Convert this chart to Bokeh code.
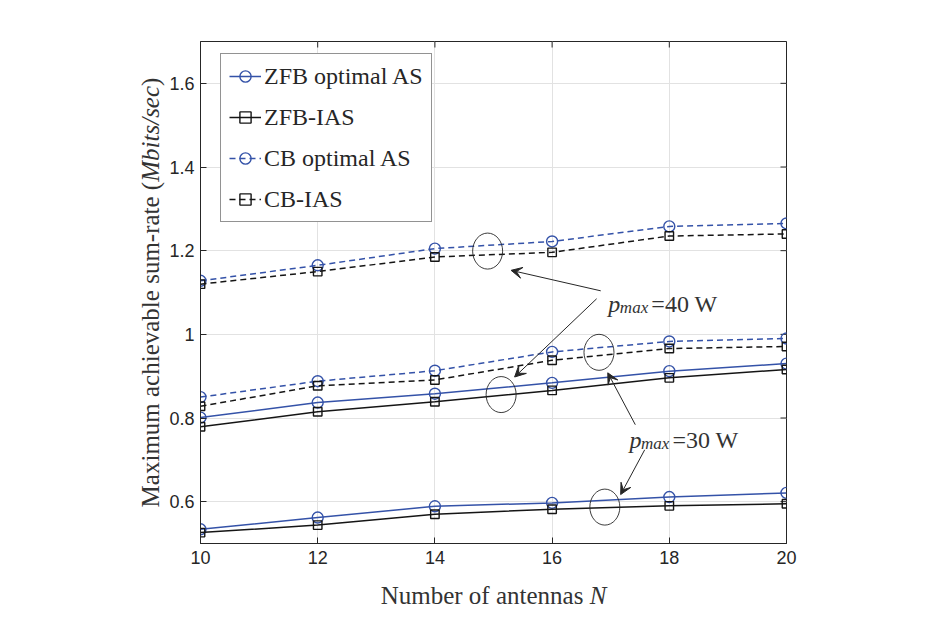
import math
from bokeh.plotting import figure
from bokeh.layouts import column, row
from bokeh.models import Range1d, Label, Arrow, VeeHead, Legend, LegendItem, FixedTicker
from bokeh.core.properties import value
from bokeh.embed import file_html
from bokeh.resources import INLINE

# ---------------- data ----------------
N = [10, 12, 14, 16, 18, 20]
zfb_opt_30 = [0.534, 0.562, 0.589, 0.597, 0.611, 0.621]
zfb_ias_30 = [0.526, 0.544, 0.570, 0.582, 0.590, 0.595]
zfb_opt_40 = [0.801, 0.837, 0.858, 0.884, 0.912, 0.930]
zfb_ias_40 = [0.779, 0.815, 0.839, 0.866, 0.896, 0.916]
cb_opt_30 = [0.850, 0.888, 0.913, 0.958, 0.983, 0.990]
cb_ias_30 = [0.828, 0.877, 0.891, 0.938, 0.966, 0.971]
cb_opt_40 = [1.128, 1.165, 1.205, 1.222, 1.258, 1.265]
cb_ias_40 = [1.120, 1.150, 1.185, 1.196, 1.235, 1.240]

x_min, x_max = 10, 20
y_min, y_max = 0.5, 1.7
x_ticks = [10, 12, 14, 16, 18, 20]
y_ticks = [0.6, 0.8, 1.0, 1.2, 1.4, 1.6]
y_tick_labels = ["0.6", "0.8", "1", "1.2", "1.4", "1.6"]

legend_labels = ["ZFB optimal AS", "ZFB-IAS", "CB optimal AS", "CB-IAS"]
# axis titles: upright / italic / upright parts
x_title = ["Number of antennas ", "N"]
y_title = ["Maximum achievable sum-rate (", "Mbits/sec", ")"]

# annotation anchors (data units)
ellipse_x = [14.90, 16.80, 15.13, 16.90]
ellipse_y = [1.199, 0.957, 0.856, 0.587]
arrows_40 = [(16.83, 1.104, 15.30, 1.153), (16.76, 1.085, 15.36, 0.898)]
arrows_30 = [(17.42, 0.784, 16.95, 0.908), (17.58, 0.724, 17.17, 0.617)]
label_40 = (16.96, 1.0726, "=40 W")
label_30 = (17.32, 0.748, "=30 W")

# ---------------- styles ----------------
BLUE = "#3452a8"
BLACK = "#151515"
AX = "#262626"
TXT = "#333333"
SERIF = "Liberation Serif"
SANS = "Liberation Sans"
FS = 24   # legend / annotation serif size (px)
FT = 25   # axis title size (px)

# Liberation Serif (Times metrics) advance widths, in em
W_REG = {' ': .25, '(': .333, ')': .333, '-': .333, 'a': .444, 'b': .5, 'c': .444, 'e': .444,
         'h': .5, 'i': .278, 'l': .278, 'm': .778, 'r': .333, 's': .389, 't': .278, 'u': .5,
         'v': .5, 'x': .5, 'M': .889, 'N': .722, 'f': .333, 'n': .5, 'o': .5}
W_IT = {'M': .833, 'b': .5, 'i': .278, 't': .278, 's': .389, '/': .278, 'e': .444, 'c': .444,
        'N': .667}


def width(s, table, fs=FT):
    return sum(table.get(ch, .5) for ch in s) * fs


TOTAL_W = 921
YW = 165                 # width of the y-title strip
B_LEFT, B_RIGHT, B_TOP, B_BOTTOM = 35, 135, 41, 29
ROW_H = 572
XH = 39                  # height of the x-title strip

p = figure(width=TOTAL_W - YW, height=ROW_H, output_backend="svg", toolbar_location=None,
           x_range=Range1d(x_min, x_max), y_range=Range1d(y_min, y_max),
           min_border_left=B_LEFT, min_border_right=B_RIGHT,
           min_border_top=B_TOP, min_border_bottom=B_BOTTOM)
p.background_fill_color = "white"
p.border_fill_color = "white"
p.outline_line_color = AX
p.outline_line_width = 1

for ax in (p.xaxis[0], p.yaxis[0]):
    ax.axis_line_color = AX
    ax.major_tick_line_color = AX
    ax.major_tick_in = 6
    ax.major_tick_out = 0
    ax.minor_tick_line_color = None
    ax.major_label_text_font = SANS
    ax.major_label_text_font_size = "18px"
    ax.major_label_text_color = AX
p.xaxis.ticker = FixedTicker(ticks=x_ticks)
p.yaxis.ticker = FixedTicker(ticks=y_ticks)
p.yaxis.major_label_overrides = {t: s for t, s in zip(y_ticks, y_tick_labels)}
p.xaxis.major_label_standoff = 7
p.yaxis.major_label_standoff = 6

p.xgrid.ticker = FixedTicker(ticks=x_ticks)
p.ygrid.ticker = FixedTicker(ticks=y_ticks)
p.grid.grid_line_color = "#e2e2e2"
p.grid.grid_line_width = 1

# mirrored inner ticks on the top and right edges of the box
p.scatter(x_ticks, [y_max] * len(x_ticks), marker="dash", angle=math.pi / 2, size=12,
          line_color=AX, line_width=1)
p.scatter([x_max] * len(y_ticks), y_ticks, marker="dash", size=12,
          line_color=AX, line_width=1)

# ---------------- series ----------------
def series(vals, color, dash, marker, size):
    l = p.line(N, vals, line_color=color, line_width=1.5, line_dash=dash)
    m = p.scatter(N, vals, marker=marker, size=size, fill_color=None,
                  line_color=color, line_width=1.4)
    return [l, m]

r1 = series(zfb_opt_40, BLUE, "solid", "circle", 11)
r2 = series(zfb_ias_40, BLACK, "solid", "square", 8.5)
r3 = series(cb_opt_40, BLUE, "6 4", "circle", 11)
r4 = series(cb_ias_40, BLACK, "6 4", "square", 8.5)
series(zfb_opt_30, BLUE, "solid", "circle", 11)
series(zfb_ias_30, BLACK, "solid", "square", 8.5)
series(cb_opt_30, BLUE, "6 4", "circle", 11)
series(cb_ias_30, BLACK, "6 4", "square", 8.5)

legend = Legend(items=[LegendItem(label=t, renderers=r) for t, r in
                       zip(legend_labels, [r1, r2, r3, r4])],
                location=(20, 321))
legend.label_text_font = SERIF
legend.label_text_font_size = f"{FS}px"
legend.label_text_color = AX
legend.glyph_width = 32
legend.glyph_height = 28
legend.label_height = 28
legend.label_standoff = 3
legend.spacing = 13
legend.padding = 8
legend.margin = 0
legend.border_line_color = AX
legend.border_line_width = 1
legend.background_fill_color = "white"
legend.background_fill_alpha = 1
p.add_layout(legend, "center")

# ---------------- annotations ----------------
p.ellipse(x=ellipse_x, y=ellipse_y, width=30, height=36, width_units="screen",
          height_units="screen", fill_color=None, line_color=AX, line_width=0.9)

for xs, ys_, xe, ye in arrows_40 + arrows_30:
    p.add_layout(Arrow(x_start=xs, y_start=ys_, x_end=xe, y_end=ye, line_color=AX,
                       line_width=1,
                       end=VeeHead(size=11, fill_color=AX, line_color=AX, line_width=1)))

for (lx, ly, rest) in (label_40, label_30):
    p.add_layout(Label(x=lx, y=ly, text="p", text_font=SERIF, text_font_style="italic",
                       text_font_size=f"{FS}px", text_color=TXT,
                       text_baseline="alphabetic"))
    p.add_layout(Label(x=lx, y=ly, x_offset=11.5, y_offset=-4, text="max", text_font=SERIF,
                       text_font_style="italic", text_font_size="17px",
                       text_color=TXT, text_baseline="alphabetic"))
    p.add_layout(Label(x=lx, y=ly, x_offset=43, text=rest, text_font=SERIF,
                       text_font_size=f"{FS}px", text_color=TXT,
                       text_baseline="alphabetic"))


# ---------------- axis titles (side strips sharing the plot's ranges) ----------------
def strip(w, h, xr, yr, bl, br, bt, bb):
    f = figure(width=w, height=h, output_backend="svg", toolbar_location=None,
               x_range=xr, y_range=yr, x_axis_location=None, y_axis_location=None,
               min_border=0, min_border_left=bl, min_border_right=br,
               min_border_top=bt, min_border_bottom=bb)
    f.grid.visible = False
    f.outline_line_color = None
    f.background_fill_color = "white"
    f.border_fill_color = "white"
    return f


# y title: reads bottom-to-top, centred on the plot box
ys = strip(YW, ROW_H, Range1d(0, YW), p.y_range, 0, 0, B_TOP, B_BOTTOM)
w1 = width(y_title[0], W_REG)
w2 = width(y_title[1], W_IT)
y_len = w1 + w2 + width(y_title[2], W_REG)
ys.text(x=[150] * 3, y=[(y_min + y_max) / 2] * 3, text=y_title, angle=math.pi / 2,
        y_offset=[y_len / 2, y_len / 2 - w1, y_len / 2 - w1 - w2],
        text_font=value(SERIF), text_font_size=f"{FT}px", text_color=TXT,
        text_baseline="middle", text_align="left",
        text_font_style=["normal", "italic", "normal"])

# x title: centred under the plot box
xs_ = strip(TOTAL_W, XH, p.x_range, Range1d(0, XH), YW + B_LEFT, B_RIGHT, 0, 0)
x_len = width(x_title[0], W_REG) + width(x_title[1], W_IT)
xs_.text(x=[(x_min + x_max) / 2] * 2, y=[16, 16], text=x_title,
         x_offset=[-x_len / 2, -x_len / 2 + width(x_title[0], W_REG)],
         text_font=value(SERIF), text_font_size=f"{FT}px", text_color=TXT,
         text_baseline="alphabetic", text_align="left",
         text_font_style=["normal", "italic"])

layout = column(row(ys, p, spacing=0), xs_, spacing=0)
open("out.html", "w").write(file_html(layout, INLINE))
